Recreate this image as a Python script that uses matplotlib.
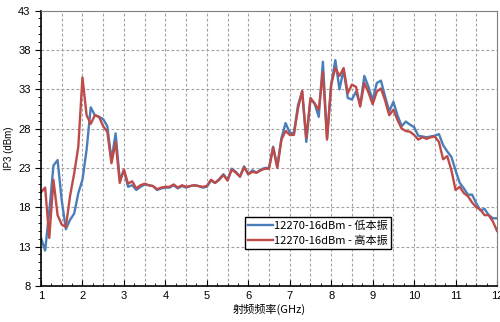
import numpy as np
import matplotlib
matplotlib.use('Agg')
import matplotlib.pyplot as plt
from matplotlib.ticker import MultipleLocator

plt.rcParams['font.family'] = ['Liberation Sans', 'Noto Sans CJK SC', 'DejaVu Sans']

# sweep: 1 GHz to 12 GHz, 0.1 GHz step
freq = np.round(np.arange(1.0, 12.05, 0.1), 1)

ip3_low = [14.1, 12.5, 17.5, 23.3, 24.0, 18.9, 15.2, 16.4, 17.2, 19.8,
           21.5, 25.3, 30.7, 29.7, 29.5, 29.2, 28.3, 24.0, 27.4, 21.5,
           22.7, 20.6, 20.8, 20.2, 20.6, 20.9, 20.8, 20.7, 20.2, 20.4,
           20.5, 20.5, 20.8, 20.4, 20.7, 20.5, 20.7, 20.8, 20.7, 20.5,
           20.6, 21.4, 21.1, 21.6, 22.2, 21.5, 22.9, 22.5, 21.9, 23.2,
           22.2, 22.7, 22.4, 22.8, 23.0, 23.0, 25.7, 23.2, 26.8, 28.7,
           27.5, 27.4, 31.0, 32.7, 26.3, 31.7, 31.2, 29.5, 36.5, 26.8,
           33.6, 36.7, 33.0, 35.5, 31.9, 31.7, 32.7, 31.0, 34.7, 33.3,
           31.6, 33.8, 34.1, 32.1, 30.2, 31.4, 29.7, 28.3, 28.9, 28.5,
           28.2, 27.1, 27.0, 26.9, 27.0, 27.1, 27.3, 25.9, 25.1, 24.4,
           22.7, 21.1, 20.4, 19.6, 19.6, 18.5, 17.6, 17.8, 17.0, 16.6,
           16.6]

ip3_high = [19.9, 20.5, 14.1, 21.5, 17.0, 15.8, 15.5, 19.4, 22.3, 25.7,
            34.5, 29.7, 28.6, 29.7, 29.5, 28.3, 27.6, 23.6, 26.3, 21.1,
            22.8, 21.0, 21.3, 20.4, 20.8, 21.0, 20.8, 20.7, 20.3, 20.5,
            20.6, 20.6, 20.9, 20.5, 20.8, 20.6, 20.7, 20.8, 20.7, 20.6,
            20.7, 21.5, 21.1, 21.5, 22.1, 21.4, 22.8, 22.4, 21.9, 23.1,
            22.2, 22.5, 22.4, 22.7, 22.9, 22.9, 25.6, 23.0, 26.6, 27.7,
            27.2, 27.2, 30.6, 32.8, 26.8, 31.9, 31.2, 30.4, 35.2, 26.6,
            33.6, 35.7, 34.7, 35.7, 32.5, 33.6, 33.3, 30.8, 33.8, 32.6,
            31.1, 32.7, 33.1, 31.6, 29.7, 30.4, 29.1, 28.0, 27.7, 27.6,
            27.2, 26.6, 26.9, 26.7, 26.9, 27.0, 26.3, 24.1, 24.5, 22.7,
            20.2, 20.6, 19.8, 19.4, 18.6, 18.0, 17.7, 17.0, 17.0, 16.2,
            15.0]

labels = ['12270-16dBm - 低本振', '12270-16dBm - 高本振']

fig = plt.figure(figsize=(5.0, 3.22), dpi=100)
ax = fig.add_axes([0.082, 0.112, 0.912, 0.855])

ax.plot(freq, ip3_low, color='#4a7ebb', lw=1.7, label=labels[0])
ax.plot(freq, ip3_high, color='#be4b48', lw=1.7, label=labels[1])

ax.set_xlim(1, 12)
ax.set_ylim(8, 43)
ax.xaxis.set_major_locator(MultipleLocator(1))
ax.xaxis.set_minor_locator(MultipleLocator(0.25))
ax.yaxis.set_major_locator(MultipleLocator(5))
ax.yaxis.set_minor_locator(MultipleLocator(1))
ax.set_yticks(np.arange(8, 44, 5))

# grid: vertical every 0.5 GHz, horizontal on major y ticks
for xv in np.arange(1.5, 12, 0.5):
    ax.axvline(xv, color='#a0a0a0', lw=0.8, ls=(0, (2.5, 2)), zorder=0)
for yv in np.arange(13, 43, 5):
    ax.axhline(yv, color='#a0a0a0', lw=0.8, ls=(0, (2.5, 2)), zorder=0)

ax.tick_params(axis='x', which='both', direction='in', labelsize=8, pad=4)
ax.tick_params(axis='x', which='major', length=4)
ax.tick_params(axis='x', which='minor', length=2.5)
ax.tick_params(axis='y', which='both', direction='out', labelsize=8)
ax.tick_params(axis='y', which='major', length=4)
ax.tick_params(axis='y', which='minor', length=2.5)

for side in ['top', 'right']:
    ax.spines[side].set_color('#7f7f7f')
    ax.spines[side].set_linewidth(0.8)
for side in ['left', 'bottom']:
    ax.spines[side].set_linewidth(1.2)

ax.set_xlabel('射频频率(GHz)', fontsize=8, family=['Noto Sans CJK SC', 'DejaVu Sans'], labelpad=2)
ax.set_ylabel('IP3 (dBm)', fontsize=7, labelpad=3)

leg = ax.legend(loc='upper left', bbox_to_anchor=(0.447, 0.25),
                prop={'family': ['Noto Sans CJK SC', 'DejaVu Sans'], 'size': 8},
                frameon=True, fancybox=False, framealpha=1, edgecolor='black',
                borderpad=0.3, labelspacing=0.4, handlelength=2.2, handletextpad=0.1,
                borderaxespad=0)
leg.get_frame().set_linewidth(1.0)

fig.savefig('out.png', dpi=100)
